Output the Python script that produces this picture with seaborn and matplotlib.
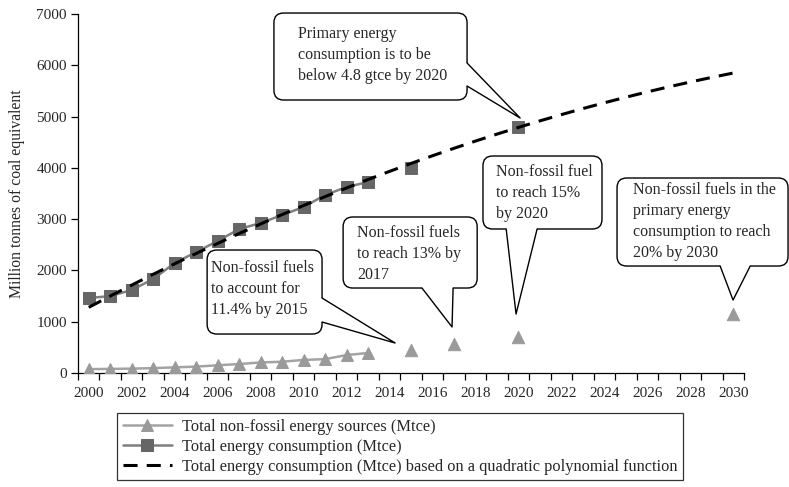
"""
China energy consumption and non-fossil targets, 2000-2030.
"""

import numpy as np
import pandas as pd
import matplotlib.pyplot as plt
import seaborn as sns
from matplotlib.patches import FancyBboxPatch, Polygon
from matplotlib.ticker import MultipleLocator, FixedLocator

# Data
YEARS_HIST = list(range(2000, 2014))
ENERGY_HIST = [1462, 1500, 1618, 1832, 2144, 2358, 2573, 2807, 2924, 3080,
               3236, 3470, 3626, 3723]
NONFOSSIL_HIST = [75, 80, 85, 95, 110, 125, 150, 175, 205, 220, 255, 270, 350, 390]

ENERGY_TARGET_YEARS = [2015, 2020]
ENERGY_TARGETS = [4000, 4795]
NONFOSSIL_TARGET_YEARS = [2015, 2017, 2020, 2030]
NONFOSSIL_TARGETS = [450, 565, 700, 1150]

FIT_YEARS = list(range(2000, 2031))
FIT_VALUES = [1280, 1500, 1714, 1925, 2130, 2331, 2527, 2719, 2906, 3089,
              3266, 3439, 3608, 3772, 3931, 4086, 4236, 4381, 4522, 4658,
              4789, 4916, 5038, 5156, 5269, 5377, 5481, 5580, 5674, 5764, 5849]

LEGEND_LABELS = [
    "Total non-fossil energy sources (Mtce)",
    "Total energy consumption (Mtce)",
    "Total energy consumption (Mtce) based on a quadratic polynomial function",
]

CALLOUT_TEXTS = [
    "Primary energy\nconsumption is to be\nbelow 4.8 gtce by 2020",
    "Non-fossil fuels\nto account for\n11.4% by 2015",
    "Non-fossil fuels\nto reach 13% by\n2017",
    "Non-fossil fuel\nto reach 15%\nby 2020",
    "Non-fossil fuels in the\nprimary energy\nconsumption to reach\n20% by 2030",
]

# Colours
ENERGY_MARK = "#666666"
ENERGY_LINE = "#7f7f7f"
NONFOSSIL_MARK = "#9a9a9a"
NONFOSSIL_LINE = "#a3a3a3"

TEXT_SIZE = 11.5

sns.set_style("white")
plt.rcParams["font.family"] = ["Liberation Serif", "DejaVu Serif"]

W, H = 789, 487
fig = plt.figure(figsize=(W / 100, H / 100), dpi=100)
ax = fig.add_axes([78 / W, 1 - 373 / H, (744 - 78) / W, (373 - 14) / H])

hist_df = pd.DataFrame({"year": YEARS_HIST, "energy": ENERGY_HIST,
                        "nonfossil": NONFOSSIL_HIST})
fit_df = pd.DataFrame({"year": FIT_YEARS, "fit": FIT_VALUES})

sns.lineplot(data=hist_df, x="year", y="nonfossil", ax=ax, color=NONFOSSIL_LINE,
             linewidth=1.8, marker="^", markersize=9,
             markerfacecolor=NONFOSSIL_MARK, markeredgecolor=NONFOSSIL_MARK,
             label=LEGEND_LABELS[0], zorder=3)
sns.scatterplot(x=NONFOSSIL_TARGET_YEARS, y=NONFOSSIL_TARGETS, ax=ax, marker="^",
                s=80, color=NONFOSSIL_MARK, edgecolor=NONFOSSIL_MARK, zorder=3)
sns.lineplot(data=hist_df, x="year", y="energy", ax=ax, color=ENERGY_LINE,
             linewidth=1.8, marker="s", markersize=8.5,
             markerfacecolor=ENERGY_MARK, markeredgecolor=ENERGY_MARK,
             label=LEGEND_LABELS[1], zorder=3)
sns.scatterplot(x=ENERGY_TARGET_YEARS, y=ENERGY_TARGETS, ax=ax, marker="s",
                s=72, color=ENERGY_MARK, edgecolor=ENERGY_MARK, zorder=3)
sns.lineplot(data=fit_df, x="year", y="fit", ax=ax, color="black", linewidth=2.2,
             dashes=False, label=LEGEND_LABELS[2], zorder=4)
ax.lines[-1].set_dashes((4.6, 3.0))

# Axes
ax.set_xlim(1999.5, 2030.5)
ax.set_ylim(0, 7000)
ax.xaxis.set_major_locator(MultipleLocator(2))
ax.xaxis.set_minor_locator(FixedLocator(np.arange(1999.5, 2031, 1)))
ax.yaxis.set_major_locator(MultipleLocator(1000))
ax.tick_params(axis="x", which="major", length=0, pad=10, labelsize=11)
ax.tick_params(axis="x", which="minor", length=5, width=0.9, color="black",
               direction="out", bottom=True)
ax.tick_params(axis="y", length=5, width=0.9, color="black", direction="out",
               left=True, labelsize=11, pad=3)
ax.set_xlabel("")
ax.set_ylabel("Million tonnes of coal equivalent", fontsize=11.3, labelpad=8)
for side in ["top", "right"]:
    ax.spines[side].set_visible(False)
for side in ["left", "bottom"]:
    ax.spines[side].set_color("black")
    ax.spines[side].set_linewidth(0.9)

# Legend
handles, labels = ax.get_legend_handles_labels()
if ax.legend_:
    ax.legend_.remove()
leg = fig.legend(handles, labels, loc="upper left",
                 bbox_to_anchor=(117 / W, 1 - 413 / H), borderaxespad=0,
                 fontsize=11.8, handlelength=3.0, labelspacing=0.24,
                 fancybox=False, frameon=True, borderpad=0.35, handletextpad=0.6)
leg.get_frame().set_edgecolor("black")
leg.get_frame().set_linewidth(0.9)

# Callouts: box (x0, x1, y0, y1), wedge base points, tip, text anchor
ASPECT = 21.48 / 0.05129
callouts = [
    dict(box=(2008.62, 2017.61, 5323, 7019), base=((2017.61, 6044), (2017.61, 5596)),
         tip=(2020.08, 4972), side="right", text=(2009.74, 6200)),
    dict(box=(2005.51, 2010.86, 760, 2398), base=((2010.86, 1462), (2010.86, 994)),
         tip=(2014.26, 585), side="right", text=(2005.69, 1640)),
    dict(box=(2011.84, 2018.08, 1657, 3042), base=((2015.51, 1657), (2016.96, 1657)),
         tip=(2016.91, 897), side="bottom", text=(2012.49, 2320)),
    dict(box=(2018.35, 2023.89, 2808, 4231), base=((2019.43, 2808), (2020.87, 2808)),
         tip=(2019.89, 1150), side="bottom", text=(2018.96, 3509)),
    dict(box=(2024.59, 2032.55, 2086, 3802), base=((2029.39, 2086), (2030.79, 2086)),
         tip=(2029.99, 1423), side="bottom", text=(2025.34, 2954)),
]

for c, txt in zip(callouts, CALLOUT_TEXTS):
    x0, x1, y0, y1 = c["box"]
    box = FancyBboxPatch((x0, y0), x1 - x0, y1 - y0,
                         boxstyle="round,pad=0,rounding_size=0.45",
                         mutation_aspect=ASPECT, facecolor="white",
                         edgecolor="black", linewidth=1.0, zorder=6, clip_on=False)
    ax.add_patch(box)
    (bx1, by1), (bx2, by2) = c["base"]
    if c["side"] == "right":
        in1, in2 = (bx1 - 0.15, by1), (bx2 - 0.15, by2)
    else:
        in1, in2 = (bx1, by1 + 60), (bx2, by2 + 60)
    ax.add_patch(Polygon([in1, (bx1, by1), c["tip"], (bx2, by2), in2],
                         closed=True, facecolor="white", edgecolor="none",
                         zorder=7, clip_on=False))
    ax.plot([bx1, c["tip"][0], bx2], [by1, c["tip"][1], by2], color="black",
            linewidth=1.0, zorder=8, clip_on=False)
    ax.text(c["text"][0], c["text"][1], txt, ha="left", va="center",
            fontsize=TEXT_SIZE, linespacing=1.42, zorder=9)

fig.savefig("out.png", dpi=100)
